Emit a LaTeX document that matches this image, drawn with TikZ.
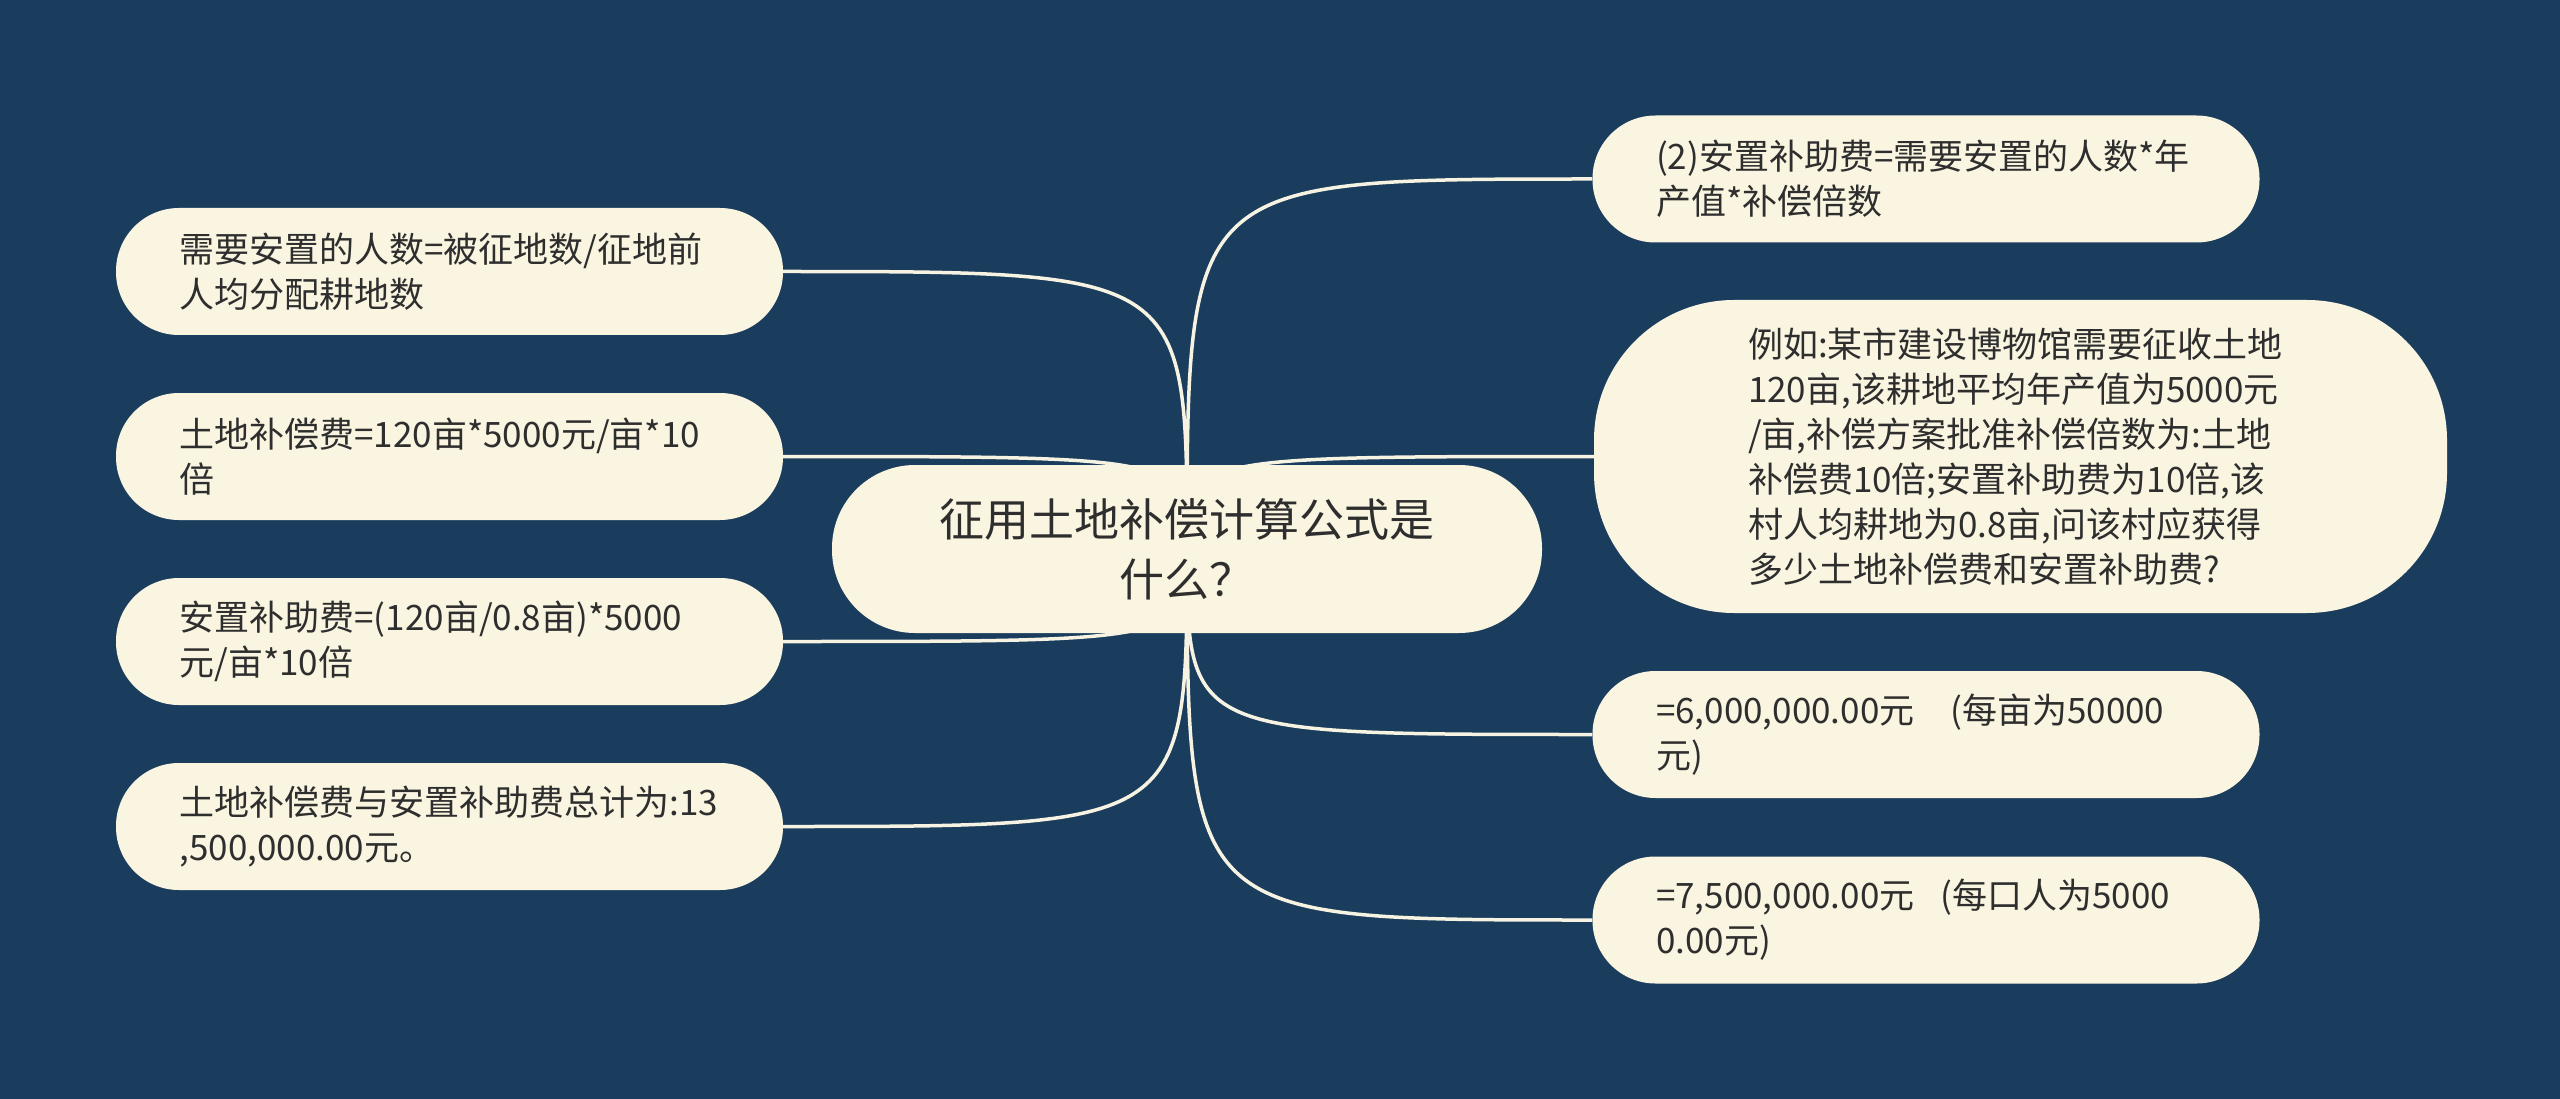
\documentclass[tikz,border=0pt]{standalone}
\usepackage{fontspec}
\newfontfamily\cjk{Noto Sans CJK SC}
\pgfdeclarelayer{back}
\pgfsetlayers{back,main}
\definecolor{bgblue}{HTML}{1B3D5D}
\definecolor{cream}{HTML}{FAF5E1}
\definecolor{linec}{HTML}{F7F3E3}
\definecolor{txt}{HTML}{2E2E2E}
\begin{document}
\begin{tikzpicture}[x=1pt,y=-1pt,
  leaf/.style={fill=cream, text=txt, font=\cjk\fontsize{35pt}{45pt}\selectfont,
    align=left, text width=540pt, inner xsep=63.5pt, inner ysep=0pt,
    minimum height=127pt, minimum width=667pt, rounded corners=63pt},
  bigleaf/.style={leaf, text width=545pt, minimum width=853pt, minimum height=313pt, rounded corners=140pt},
  root/.style={fill=cream, text=txt, font=\cjk\fontsize{45pt}{60pt}\selectfont,
    align=center, text width=520pt, inner ysep=0pt,
    minimum width=710pt, minimum height=168pt, rounded corners=83pt},
  conn/.style={draw=linec, line width=3.5pt}]
\useasboundingbox (0,0) rectangle (2560,1099);
\begin{pgfonlayer}{back}
\fill[bgblue] (0,0) rectangle (2560,1099);
\end{pgfonlayer}

\node[root] (c) at (1187,549) {征用土地补偿计算公式是\\什么？};

\node[leaf] (l1) at (449.5,271.5) {需要安置的人数=被征地数/征地前\\人均分配耕地数};
\node[leaf] (l2) at (449.5,456.5) {土地补偿费=120亩*5000元/亩*10\\倍};
\node[leaf] (l3) at (449.5,641.5) {安置补助费=(120亩/0.8亩)*5000\\元/亩*10倍};
\node[leaf] (l4) at (449.5,826.5) {土地补偿费与安置补助费总计为:13\\,500,000.00元。};

\node[leaf] (r1) at (1926,179) {(2)安置补助费=需要安置的人数*年\\产值*补偿倍数};
\node[bigleaf] (r2) at (2020.5,456.5) {例如:某市建设博物馆需要征收土地\\120亩,该耕地平均年产值为5000元\\/亩,补偿方案批准补偿倍数为:土地\\补偿费10倍;安置补助费为10倍,该\\村人均耕地为0.8亩,问该村应获得\\多少土地补偿费和安置补助费?};
\node[leaf] (r3) at (1926,734.5) {=6,000,000.00元\hspace{36pt}(每亩为50000\\元)};
\node[leaf] (r4) at (1926,920) {=7,500,000.00元\hspace{26pt}(每口人为5000\\0.00元)};

\begin{pgfonlayer}{back}
\foreach \n in {l1,l2,l3,l4}
  \draw[conn] (c.center) .. controls (c.center |- \n.east) .. (\n.east);
\foreach \n in {r1,r2,r3,r4}
  \draw[conn] (c.center) .. controls (c.center |- \n.west) .. (\n.west);
\end{pgfonlayer}
\end{tikzpicture}
\end{document}
